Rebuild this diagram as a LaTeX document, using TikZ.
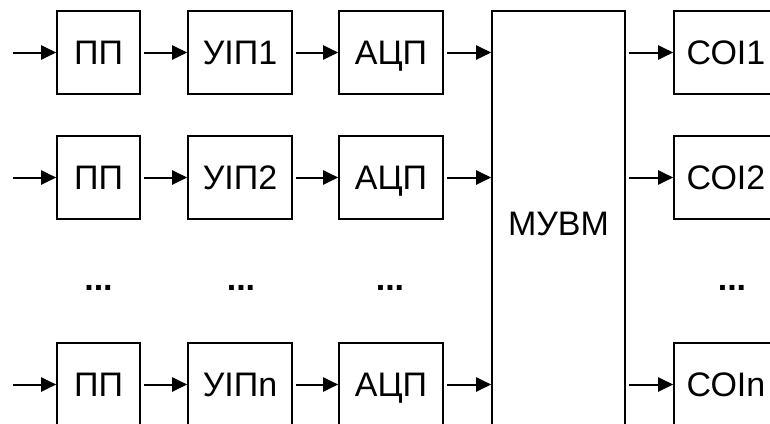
\documentclass[tikz,border=0pt]{standalone}
\usepackage{fontspec}
\setmainfont{Liberation Sans}
\usetikzlibrary{arrows.meta}
\begin{document}
\begin{tikzpicture}[x=1pt,y=-1pt,
  blk/.style={draw,line width=1.6pt,minimum height=83pt,inner sep=0pt,
    text height=24pt,text depth=0pt,font=\fontsize{34}{40}\selectfont},
  small/.style={blk,minimum width=83pt},
  wide/.style={blk,minimum width=104pt},
  link/.style={line width=2pt,-{Triangle[length=15pt,width=14pt]},shorten <=3pt},
  dots/.style={anchor=base,inner sep=0pt,font=\fontsize{34}{40}\selectfont\bfseries}]
\clip (0,0) rectangle (770,423);
\fill[white] (0,0) rectangle (770,423);

% central computing unit
\node[blk,minimum width=133pt,minimum height=424pt] (mu) at (558.5,223) {МУВМ};

% channel rows
\foreach \r/\y/\k in {1/52.5/1, 2/177.5/2, 3/384.5/n}{
  \coordinate (in\r) at (10,\y);
  \node[small] (pp\r) at (98.5,\y) {ПП};
  \node[wide] (up\r) at (240,\y) {УІП\k};
  \node[wide] (adc\r) at (391,\y) {АЦП};
  \node[wide] (so\r) at (726,\y) {СОІ\k};
  \draw[link] (in\r) -- (pp\r.west);
  \draw[link] (pp\r.east) -- (up\r.west);
  \draw[link] (up\r.east) -- (adc\r.west);
  \draw[link] (adc\r.east) -- (adc\r.east -| mu.west);
  \draw[link] (so\r.west -| mu.east) -- (so\r.west);
}

% omitted channels
\node[dots] (d1) at (98.5,290) {...};
\node[dots] (d2) at (241,290) {...};
\node[dots] (d3) at (390,290) {...};
\node[dots] (d4) at (732,290) {...};
\end{tikzpicture}
\end{document}
